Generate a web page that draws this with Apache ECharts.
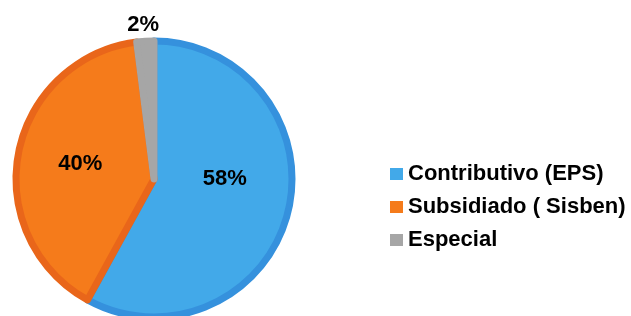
<!DOCTYPE html>
<html>
<head>
<meta charset="utf-8">
<style>
  html, body { margin: 0; padding: 0; background: #fff; }
  #chart { width: 631px; height: 316px; }
</style>
<script src="https://cdn.jsdelivr.net/npm/echarts@6/dist/echarts.min.js"></script>
</head>
<body>
<div id="chart"></div>
<script>
  var categories = ['Contributivo (EPS)', 'Subsidiado ( Sisben)', 'Especial'];
  var values = [58, 40, 2];
  var fillColors = ['#42a9e9', '#f57b1b', '#a6a6a6'];
  var borderColors = ['#3591dd', '#e9661a', '#a6a6a6'];

  var myChart = echarts.init(document.getElementById('chart'));

  var labelOffsets = [[1, -18], [-3, -2], [0, 0]];

  var pieData = categories.map(function (name, i) {
    var item = {
      name: name,
      value: values[i],
      itemStyle: { color: fillColors[i], borderColor: borderColors[i] },
      label: { offset: labelOffsets[i] }
    };
    if (i === 2) {
      item.label = { position: 'outside', offset: [19, -12] };
      item.labelLine = { show: false, length: 4, length2: 0 };
    }
    return item;
  });

  var option = {
    animation: false,
    legend: {
      orient: 'vertical',
      left: 390,
      top: 163,
      padding: 0,
      itemWidth: 13,
      itemHeight: 12,
      itemGap: 11,
      icon: 'rect',
      itemStyle: { borderWidth: 0 },
      textStyle: {
        fontFamily: 'Liberation Sans',
        fontWeight: 'bold',
        fontSize: 22,
        color: '#000'
      },
      data: categories
    },
    series: [
      {
        type: 'pie',
        center: [154, 179],
        radius: 138,
        startAngle: 90,
        clockwise: true,
        itemStyle: { borderWidth: 7 },
        label: {
          show: true,
          position: 'inside',
          formatter: '{c}%',
          fontFamily: 'Liberation Sans',
          fontWeight: 'bold',
          fontSize: 22,
          color: '#000'
        },
        labelLine: { show: false },
        emphasis: { disabled: true },
        data: pieData
      }
    ]
  };

  myChart.setOption(option);
</script>
</body>
</html>
